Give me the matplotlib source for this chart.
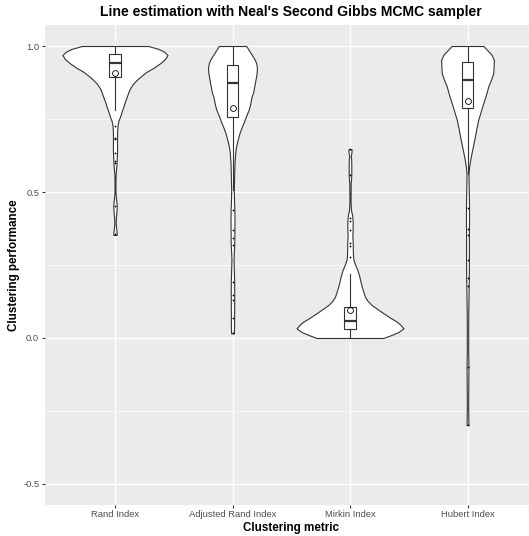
import matplotlib
matplotlib.use("Agg")
from matplotlib import pyplot as plt

plt.rcParams['font.family'] = ['Liberation Sans', 'DejaVu Sans']

metrics = ["Rand Index", "Adjusted Rand Index", "Mirkin Index", "Hubert Index"]

# violin outlines: value -> half width (x units)
rand_y = [1.000, 0.990, 0.980, 0.969, 0.955, 0.941, 0.926, 0.912, 0.898, 0.884, 0.870, 0.855, 0.840,
          0.826, 0.810, 0.792, 0.775, 0.758, 0.745, 0.730, 0.710, 0.680, 0.650, 0.620, 0.590, 0.565,
          0.540, 0.500, 0.480, 0.460, 0.450, 0.430, 0.410, 0.390, 0.375, 0.360, 0.353]
rand_w = [0.284, 0.370, 0.420, 0.447, 0.425, 0.384, 0.330, 0.270, 0.225, 0.185, 0.152, 0.128, 0.112,
          0.100, 0.085, 0.071, 0.056, 0.043, 0.030, 0.022, 0.018, 0.017, 0.018, 0.016, 0.012, 0.006,
          0.004, 0.004, 0.008, 0.014, 0.015, 0.012, 0.007, 0.006, 0.010, 0.014, 0.014]

ari_y = [1.000, 0.985, 0.969, 0.955, 0.941, 0.925, 0.906, 0.890, 0.872, 0.855, 0.840, 0.826, 0.800,
         0.781, 0.760, 0.740, 0.724, 0.700, 0.680, 0.667, 0.650, 0.633, 0.600, 0.553, 0.507, 0.470,
         0.440, 0.400, 0.360, 0.320, 0.290, 0.267, 0.240, 0.200, 0.150, 0.100, 0.060, 0.030, 0.016]
ari_w = [0.117, 0.140, 0.165, 0.187, 0.202, 0.208, 0.205, 0.198, 0.190, 0.182, 0.175, 0.162, 0.150,
         0.137, 0.115, 0.097, 0.080, 0.058, 0.045, 0.037, 0.028, 0.023, 0.017, 0.014, 0.011, 0.013,
         0.016, 0.017, 0.016, 0.015, 0.011, 0.009, 0.011, 0.014, 0.015, 0.014, 0.014, 0.013, 0.012]

mirkin_y = [0.000, 0.010, 0.020, 0.033, 0.045, 0.056, 0.070, 0.085, 0.100, 0.113, 0.127, 0.141, 0.160,
            0.176, 0.195, 0.210, 0.233, 0.250, 0.267, 0.280, 0.300, 0.330, 0.350, 0.370, 0.400, 0.420,
            0.440, 0.460, 0.500, 0.530, 0.550, 0.565, 0.590, 0.615, 0.621, 0.635, 0.646]
mirkin_w = [0.284, 0.350, 0.410, 0.455, 0.430, 0.398, 0.340, 0.284, 0.230, 0.185, 0.150, 0.128, 0.112,
            0.100, 0.088, 0.080, 0.063, 0.045, 0.030, 0.026, 0.024, 0.023, 0.020, 0.022, 0.023, 0.018,
            0.008, 0.005, 0.005, 0.006, 0.010, 0.011, 0.011, 0.010, 0.006, 0.012, 0.014]

hubert_y = [1.000, 0.985, 0.970, 0.952, 0.930, 0.906, 0.885, 0.861, 0.830, 0.804, 0.775, 0.747, 0.720,
            0.690, 0.660, 0.633, 0.610, 0.587, 0.564, 0.540, 0.500, 0.450, 0.400, 0.350, 0.300, 0.250,
            0.200, 0.150, 0.100, 0.050, 0.000, -0.050, -0.100, -0.150, -0.200, -0.250, -0.298]
hubert_w = [0.135, 0.170, 0.205, 0.225, 0.222, 0.219, 0.200, 0.176, 0.155, 0.134, 0.112, 0.091, 0.077,
            0.063, 0.048, 0.034, 0.023, 0.014, 0.0085, 0.009, 0.011, 0.013, 0.013, 0.012, 0.012, 0.012,
            0.011, 0.009, 0.007, 0.006, 0.006, 0.006, 0.008, 0.007, 0.006, 0.006, 0.008]

violin_y = [rand_y, ari_y, mirkin_y, hubert_y]
violin_w = [rand_w, ari_w, mirkin_w, hubert_w]

# box plot summaries
q1s = [0.894, 0.756, 0.030, 0.788]
medians = [0.943, 0.875, 0.059, 0.884]
q3s = [0.974, 0.935, 0.107, 0.944]
whis_lo = [0.780, 0.507, 0.000, 0.560]
whis_hi = [1.000, 1.000, 0.220, 1.000]
means = [0.909, 0.788, 0.096, 0.811]
outliers = [
    [0.725, 0.686, 0.680, 0.634, 0.606, 0.601, 0.451, 0.355],
    [0.438, 0.370, 0.342, 0.319, 0.193, 0.147, 0.130, 0.067, 0.016],
    [0.646, 0.557, 0.411, 0.399, 0.370, 0.324, 0.315, 0.279],
    [0.444, 0.372, 0.353, 0.267, 0.204, 0.178, -0.098, -0.298],
]

W, H = 529, 536
fig = plt.figure(figsize=(W / 100, H / 100), dpi=100)
ax = fig.add_axes([44.5 / W, (H - 505) / H, (538 - 44.5) / W, (505 - 25) / H])
ax.set_facecolor('#EBEBEB')
for s in ax.spines.values():
    s.set_visible(False)

pos = [1, 2, 3, 4]
for x, ys, ws in zip(pos, violin_y, violin_w):
    left = [x - w for w in ws]
    right = [x + w for w in ws]
    ax.fill_betweenx(ys, left, right, facecolor='white', edgecolor='#333333', lw=0.8, zorder=2)

stats = []
for i in range(4):
    stats.append(dict(label=metrics[i], q1=q1s[i], med=medians[i], q3=q3s[i],
                      whislo=whis_lo[i], whishi=whis_hi[i], mean=means[i], fliers=outliers[i]))
ax.bxp(stats, positions=pos, widths=0.1, showcaps=False, showmeans=True, patch_artist=True,
       boxprops=dict(facecolor='white', edgecolor='#333333', lw=0.8),
       whiskerprops=dict(color='#333333', lw=0.8),
       medianprops=dict(color='#333333', lw=1.6),
       meanprops=dict(marker='o', markerfacecolor='none', markeredgecolor='black',
                      markersize=4.2, markeredgewidth=0.6),
       flierprops=dict(marker='o', markerfacecolor='black', markeredgecolor='none', markersize=1.3),
       zorder=3)

ax.set_xlim(0.4, 4.6)
ax.set_ylim(-0.572, 1.072)
ax.set_xticks(pos)
ax.set_xticklabels(metrics)
ax.set_yticks([-0.5, 0.0, 0.5, 1.0])
ax.set_yticklabels(['-0.5', '0.0', '0.5', '1.0'])
ax.set_yticks([-0.25, 0.25, 0.75], minor=True)
ax.tick_params(axis='both', which='major', length=2.2, width=0.8, color='#333333',
               labelsize=6.75, labelcolor='#4D4D4D', pad=1.6)
ax.tick_params(axis='y', which='minor', length=0)
ax.grid(True, which='major', color='white', lw=1.0, zorder=0)
ax.grid(True, which='minor', axis='y', color='white', lw=0.5, zorder=0)
ax.set_axisbelow(True)

ax.set_xlabel('Clustering metric', fontsize=8.4, fontweight='bold', va='center')
ax.xaxis.set_label_coords((291 - 44.5) / (538 - 44.5), (505 - 527.5) / 480)
ax.set_ylabel('Clustering performance', fontsize=8.4, fontweight='bold', va='center')
ax.yaxis.set_label_coords((14 - 44.5) / (538 - 44.5), (505 - 265) / 480)

fig.text(291 / W, 1 - 12 / H, "Line estimation with Neal's Second Gibbs MCMC sampler",
         ha='center', va='center', fontsize=10.1, fontweight='bold')

fig.savefig('out.png', dpi=100)
